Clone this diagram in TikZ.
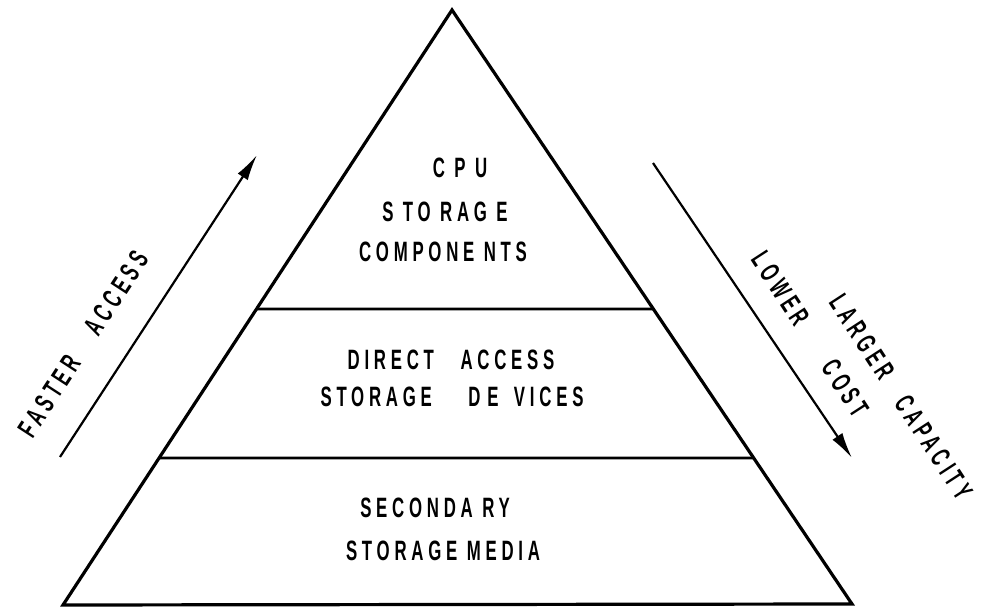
\documentclass[tikz,border=0pt]{standalone}
\usepackage{fontspec}
\setmainfont{Liberation Sans}[FakeStretch=0.6, LetterSpace=17]
\usetikzlibrary{arrows.meta,calc}
\newcommand{\gapw}{\hspace{0.9em}}
\begin{document}
\begin{tikzpicture}[x=1pt,y=-1pt,
  lbl/.style={font=\fontsize{28}{28}\selectfont\bfseries, inner sep=0pt, anchor=center},
  tri/.style={line width=3.2pt, line join=miter},
  divline/.style={line width=2.6pt},
  arr/.style={line width=2.2pt, -{Latex[length=26pt,width=12pt]}}]
\useasboundingbox (0,0) rectangle (986,609);
\coordinate (apex) at (452,10);
\coordinate (bl) at (63,605);
\coordinate (br) at (852,604);
\draw[tri] (apex) -- (bl) -- (br) -- cycle;
\coordinate (d1l) at ($(apex)!0.5025!(bl)$);
\coordinate (d1r) at ($(apex)!0.5034!(br)$);
\coordinate (d2l) at ($(apex)!0.7529!(bl)$);
\coordinate (d2r) at ($(apex)!0.7542!(br)$);
\draw[divline] (d1l) -- (d1r);
\draw[divline] (d2l) -- (d2r);
\coordinate (fa1) at (60,457);
\coordinate (fa2) at (257,155);
\draw[arr] (fa1) -- (fa2);
\coordinate (lc1) at (653,163);
\coordinate (lc2) at (852,458);
\draw[arr] (lc1) -- (lc2);
\node[lbl] (cpu) at (460,168) {C P U};
\node[lbl] (sto) at (445,212) {S TO RAG E};
\node[lbl] (comp) at (443,252) {COMPONE NTS};
\node[lbl] (dir) at (451,360) {DIRECT\hspace{0.95em}ACCESS};
\node[lbl] (dev) at (452,397) {STORAGE\hspace{1.3em}D\hspace{0.25em}E\hspace{0.55em}VICES};
\node[lbl] (sec) at (435,508) {SECONDA RY};
\node[lbl] (med) at (443,551) {STORAGE MEDIA};
\node[lbl, rotate=57] (fast) at (83,344) {FASTER\hspace{1.1em}ACCESS};
\node[lbl, rotate=-57] (cost) at (810,334) {LOWER\hspace{1.7em}COST};
\node[lbl, rotate=-57] (cap) at (901,397) {LARGER\gapw CAPACITY};
\end{tikzpicture}
\end{document}
